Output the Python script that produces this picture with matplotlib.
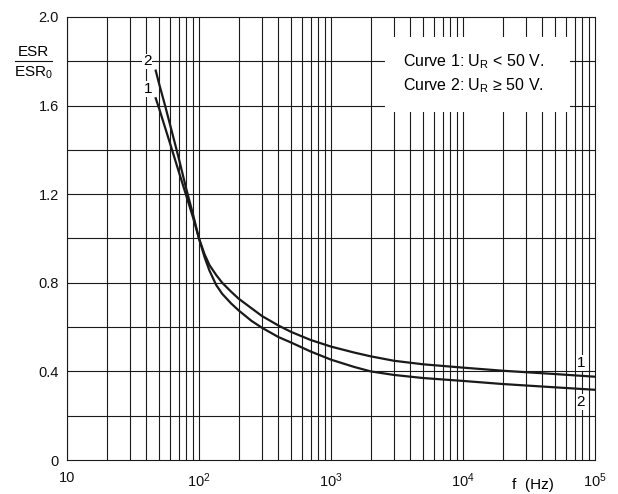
import numpy as np
import matplotlib
matplotlib.use("Agg")
import matplotlib.pyplot as plt
from matplotlib.patches import Rectangle
from matplotlib.lines import Line2D

plt.rcParams['font.family'] = ['Liberation Sans', 'DejaVu Sans']
plt.rcParams['mathtext.fontset'] = 'custom'
plt.rcParams['mathtext.rm'] = 'Liberation Sans'
plt.rcParams['mathtext.it'] = 'Liberation Sans:italic'

# =============================
# Data
# =============================
freq_hz = [47, 50, 55, 60, 70, 80, 90, 100, 110, 120, 135, 150, 175, 200, 250,
           300, 400, 500, 700, 1000, 1500, 2000, 3000, 5000, 10000, 20000,
           50000, 100000]
curve1 = [1.633, 1.585, 1.506, 1.434, 1.305, 1.194, 1.096, 1.00, 0.93, 0.88,
          0.835, 0.80, 0.76, 0.728, 0.685, 0.650, 0.607, 0.578, 0.542, 0.512,
          0.485, 0.468, 0.448, 0.432, 0.417, 0.403, 0.388, 0.376]
curve2 = [1.758, 1.696, 1.606, 1.52, 1.366, 1.225, 1.11, 1.00, 0.917, 0.855,
          0.79, 0.75, 0.707, 0.675, 0.628, 0.597, 0.555, 0.530, 0.490, 0.453,
          0.420, 0.400, 0.384, 0.370, 0.357, 0.343, 0.328, 0.317]

x_ticks = [10, 100, 1000, 10000, 100000]
x_tick_labels = ["10", r"$\mathregular{10^{2}}$", r"$\mathregular{10^{3}}$",
                 r"$\mathregular{10^{4}}$", r"$\mathregular{10^{5}}$"]
y_ticks = [0, 0.4, 0.8, 1.2, 1.6, 2.0]
y_tick_labels = ["0", "0.4", "0.8", "1.2", "1.6", "2.0"]

# =============================
# Figure
# =============================
fig = plt.figure(figsize=(6.18, 4.94), dpi=100)
ax = fig.add_axes([67/618, 1 - 460/494, 528/618, 443/494])

ax.set_xscale("log")
ax.set_xlim(10, 1e5)
ax.set_ylim(0, 2.0)

grid_col = "#1a1a1a"
# grille verticale 1..9 x decade
for dec in [10, 100, 1000, 10000]:
    for k in range(1, 10):
        ax.axvline(dec * k, color=grid_col, lw=0.8, zorder=1)
for yv in np.arange(0.2, 2.0, 0.2):
    ax.axhline(yv, color=grid_col, lw=0.8, zorder=1)

for s in ax.spines.values():
    s.set_linewidth(0.8)
    s.set_color(grid_col)

ax.set_xticks(x_ticks)
ax.set_xticklabels(x_tick_labels)
ax.set_xticks([], minor=True)
ax.set_yticks(y_ticks)
ax.set_yticklabels(y_tick_labels)
ax.tick_params(axis="both", which="both", length=0, labelsize=10.5, colors="#111111")
ax.tick_params(axis="x", pad=8)
ax.tick_params(axis="y", pad=6)

ax.plot(freq_hz, curve1, color="#1a1a1a", lw=1.6, zorder=4)
ax.plot(freq_hz, curve2, color="#1a1a1a", lw=1.6, zorder=4)

# boite de texte (legende)
ax.add_patch(Rectangle((0.602, 0.786), 0.351, 0.169, transform=ax.transAxes,
                       facecolor="white", edgecolor="none", zorder=3))
ax.text(0.636, 0.889, r"Curve 1: U$_\mathregular{R}$ < 50 V.", transform=ax.transAxes,
        fontsize=11.5, va="baseline", ha="left", zorder=5)
ax.text(0.636, 0.835, r"Curve 2: U$_\mathregular{R}$ ≥ 50 V.", transform=ax.transAxes,
        fontsize=11.5, va="baseline", ha="left", zorder=5)

# numeros des courbes
lbl_box = dict(facecolor="white", edgecolor="none", pad=0.6)
ax.text(40.4, 1.80, "2", fontsize=11, ha="center", va="center", bbox=lbl_box, zorder=3)
ax.text(41.0, 1.675, "1", fontsize=11, ha="center", va="center", bbox=lbl_box, zorder=3)
ax.text(78300, 0.438, "1", fontsize=11, ha="center", va="center", bbox=lbl_box, zorder=3)
ax.text(78300, 0.262, "2", fontsize=11, ha="center", va="center", bbox=lbl_box, zorder=3)

# label axe y : ESR / ESR0
fig.text(33/618, 1 - 52/494, "ESR", fontsize=11, ha="center", va="center")
fig.text(33/618, 1 - 73/494, r"ESR$_\mathregular{0}$", fontsize=11, ha="center", va="center")
fig.add_artist(Line2D([15/618, 52/618], [1 - 61/494, 1 - 61/494],
                      transform=fig.transFigure, color="#111111", lw=0.8))

# label axe x
fig.text(533/618, 1 - 485/494, "f  (Hz)", fontsize=11, ha="center", va="center")

fig.savefig("out.png", dpi=100)
